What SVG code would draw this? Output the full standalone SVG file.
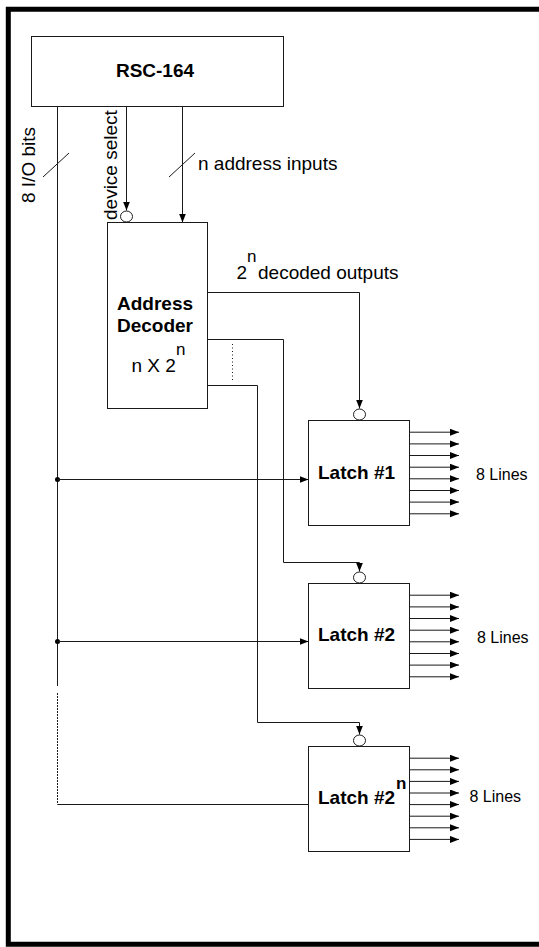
<svg xmlns="http://www.w3.org/2000/svg" width="539" height="947" viewBox="0 0 539 947">
<style>
.box{fill:#fff;stroke:#1a1a1a;stroke-width:1}
.ln{fill:none;stroke:#1a1a1a;stroke-width:1}
.arr{fill:none;stroke:#1a1a1a;stroke-width:1;marker-end:url(#ah)}
.bub{fill:#fff;stroke:#1a1a1a;stroke-width:1}
.t{font-family:"Liberation Sans",Arial,sans-serif;font-size:19px;fill:#000}
.b{font-weight:bold}
.s{font-size:16px}
.sup{font-size:17px}
</style>
<defs>
<marker id="ah" markerUnits="userSpaceOnUse" markerWidth="10" markerHeight="8" refX="9" refY="3.5" orient="auto">
<path d="M0,0 L9,3.5 L0,7 z" fill="#000"/>
</marker>
</defs>
<rect width="539" height="947" fill="#fff"/>
<path d="M541 9.2 H8.3 V944.2 H541" fill="none" stroke="#000" stroke-width="5"/>

<g id="connectors">
<!-- I/O bus -->
<path class="ln" d="M57.5 106.5 V686"/>
<path class="ln" d="M57.5 693 V804.5" stroke-dasharray="2 1"/>
<path class="ln" d="M57.5 804.5 H308.5"/>
<line class="ln" x1="43" y1="177" x2="69" y2="153"/>
<circle cx="57.5" cy="479.5" r="2.5" fill="#000"/>
<circle cx="57.5" cy="641.5" r="2.5" fill="#000"/>
<path class="arr" d="M57.5 479.5 H308.5"/>
<path class="arr" d="M57.5 641.5 H308.5"/>
<!-- device select -->
<path class="arr" d="M126.5 106.5 V210.5"/>
<ellipse class="bub" cx="126.5" cy="216.5" rx="6" ry="5.5"/>
<!-- address inputs -->
<path class="arr" d="M182.5 106.5 V222.5"/>
<line class="ln" x1="169" y1="177" x2="195" y2="153"/>
<!-- decoder outputs -->
<path class="arr" d="M207.5 292.5 H359.5 V408.5"/>
<ellipse class="bub" cx="359.5" cy="414.5" rx="6" ry="5.5"/>
<path class="arr" d="M207.5 339.5 H283.5 V562.5 H359.5 V571.5"/>
<ellipse class="bub" cx="359.5" cy="577.5" rx="6" ry="5.5"/>
<path class="arr" d="M207.5 385.5 H257.5 V722.5 H359.5 V734.5"/>
<ellipse class="bub" cx="359.5" cy="740.5" rx="6" ry="5.5"/>
<line class="ln" x1="232.5" y1="344" x2="232.5" y2="380" stroke-dasharray="1 2.5"/>
<!-- latch outputs -->
<g id="out1">
<path class="arr" d="M409.5 432.2 H459"/><path class="arr" d="M409.5 443.9 H459"/>
<path class="arr" d="M409.5 455.5 H459"/><path class="arr" d="M409.5 467.2 H459"/>
<path class="arr" d="M409.5 478.8 H459"/><path class="arr" d="M409.5 490.5 H459"/>
<path class="arr" d="M409.5 502.1 H459"/><path class="arr" d="M409.5 513.8 H459"/>
</g>
<g id="out2">
<path class="arr" d="M409.5 595.2 H459"/><path class="arr" d="M409.5 606.9 H459"/>
<path class="arr" d="M409.5 618.5 H459"/><path class="arr" d="M409.5 630.2 H459"/>
<path class="arr" d="M409.5 641.8 H459"/><path class="arr" d="M409.5 653.5 H459"/>
<path class="arr" d="M409.5 665.1 H459"/><path class="arr" d="M409.5 676.8 H459"/>
</g>
<g id="out3">
<path class="arr" d="M409.5 758.2 H459"/><path class="arr" d="M409.5 769.8 H459"/>
<path class="arr" d="M409.5 781.4 H459"/><path class="arr" d="M409.5 793 H459"/>
<path class="arr" d="M409.5 804.6 H459"/><path class="arr" d="M409.5 816.2 H459"/>
<path class="arr" d="M409.5 827.8 H459"/><path class="arr" d="M409.5 839.4 H459"/>
</g>
</g>

<g id="rsc164">
<rect class="box" x="31.5" y="36.5" width="252" height="70"/>
<text class="t b" x="155" y="77" text-anchor="middle">RSC-164</text>
</g>

<g id="decoder">
<rect class="box" x="107.5" y="222.5" width="100" height="186"/>
<text class="t b" x="155" y="310" text-anchor="middle">Address</text>
<text class="t b" x="155" y="332" text-anchor="middle">Decoder</text>
<text class="t" x="131.5" y="372">n X 2</text>
<text class="t sup" x="176" y="355">n</text>
</g>

<g id="latch1">
<rect class="box" x="308.5" y="420.5" width="101" height="105"/>
<text class="t b" x="318" y="479">Latch #1</text>
</g>
<g id="latch2">
<rect class="box" x="308.5" y="583.5" width="101" height="105"/>
<text class="t b" x="318" y="641">Latch #2</text>
</g>
<g id="latch3">
<rect class="box" x="308.5" y="746.5" width="101" height="105"/>
<text class="t b" x="318" y="804">Latch #2</text>
<text class="t b sup" x="396" y="789">n</text>
</g>

<g id="labels">
<text class="t" transform="translate(34.5,203) rotate(-90)">8 I/O bits</text>
<text class="t" transform="translate(116.5,220) rotate(-90)">device select</text>
<text class="t" x="198" y="170">n address inputs</text>
<text class="t" x="236.5" y="279">2</text>
<text class="t sup" x="247" y="262">n</text>
<text class="t" x="258" y="279">decoded outputs</text>
<text class="t s" x="476" y="480">8 Lines</text>
<text class="t s" x="477" y="643">8 Lines</text>
<text class="t s" x="469.5" y="802">8 Lines</text>
</g>
</svg>
